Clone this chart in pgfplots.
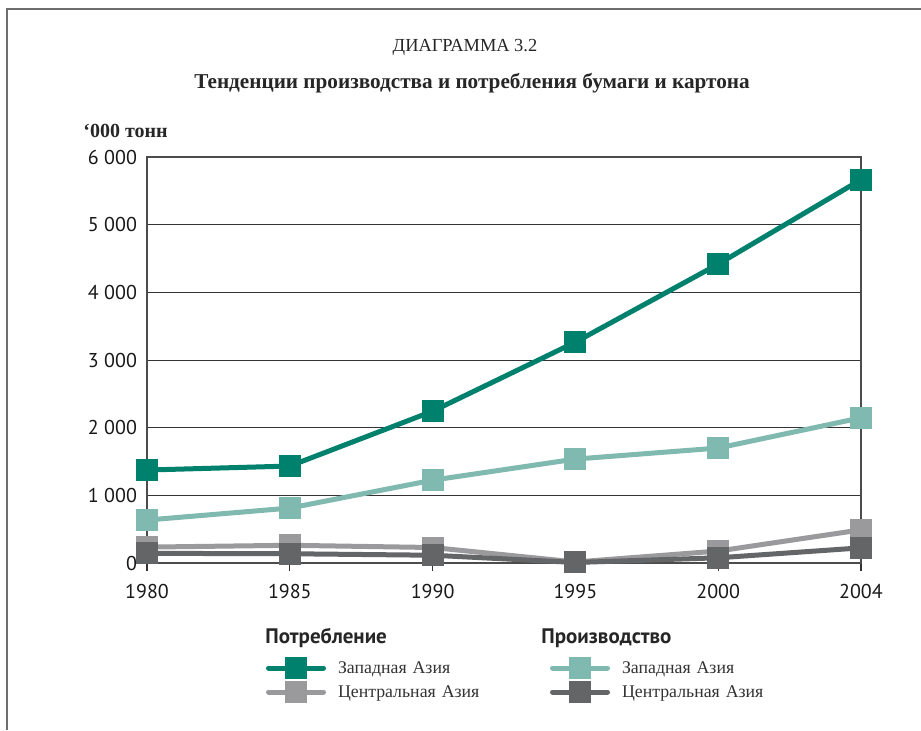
\documentclass[border=0pt]{standalone}
\usepackage{fontspec}
\setmainfont{Liberation Serif}
\newfontfamily\ptsans{PT Sans}
\usepackage{pgfplots}
\pgfplotsset{compat=1.18}
\definecolor{cwest}{HTML}{00816D}
\definecolor{pwest}{HTML}{80B9AF}
\definecolor{ccent}{HTML}{9A9A9C}
\definecolor{pcent}{HTML}{646567}
\definecolor{framec}{HTML}{6E6E6E}
\begin{document}
\begin{tikzpicture}
\useasboundingbox (0pt,0pt) rectangle (460.5pt,-365pt);
\fill[white] (0pt,0pt) rectangle (460.5pt,-365pt);
\draw[framec, line width=1pt] (460.5pt,-4.5pt) -- (3.5pt,-4.5pt) -- (3.5pt,-365pt);
\node[font=\fontsize{9.2}{12}\selectfont, text=black!85] at (232.5pt,-23.5pt) {ДИАГРАММА 3.2};
\node[font=\bfseries\fontsize{10.6}{12}\selectfont, text=black!85] at (236pt,-41.5pt) {Тенденции производства и потребления бумаги и картона};
\node[font=\bfseries\fontsize{10}{12}\selectfont, text=black!85, anchor=west, inner sep=0pt] at (41.5pt,-65.5pt) {‘000 тонн};
\node[font=\ptsans\bfseries\fontsize{10.5}{12}\selectfont, text=black!85, anchor=west, inner sep=0pt] at (132.5pt,-319pt) {Потребление};
\node[font=\ptsans\bfseries\fontsize{10.5}{12}\selectfont, text=black!85, anchor=west, inner sep=0pt] at (270.5pt,-319pt) {Производство};
\begin{axis}[
  at={(73.5pt,-281.5pt)}, anchor=south west,
  scale only axis, width=357pt, height=203pt,
  xmin=0, xmax=5, ymin=0, ymax=6000,
  xtick={0,1,2,3,4,5},
  xticklabels={1980,1985,1990,1995,2000,2004},
  ytick={0,1000,2000,3000,4000,5000,6000},
  yticklabels={0,1 000,2 000,3 000,4 000,5 000,6 000},
  /pgf/number format/assume math mode=true,
  ticklabel style={font=\ptsans\fontsize{10}{11}\selectfont, text=black!90},
  xtick pos=lower, tick align=outside,
  major tick length=4pt,
  xtick style={black!80, line width=0.6pt},
  ytick style={draw=none},
  ymajorgrids, grid style={black!80, line width=0.5pt},
  axis line style={black!70, line width=0.6pt},
  xticklabel style={yshift=-3pt},
  yticklabel style={xshift=2.5pt},
  clip=false,
  legend columns=2,
  legend cell align=left,
  legend style={draw=none, fill=none, inner sep=0pt, outer sep=0pt,
    at={(0.1667,-0.2365)}, anchor=north west,
    column sep=6pt, row sep=3pt,
    nodes={inner sep=0pt, text width=100pt, text height=7pt, text depth=2pt,
      font=\fontsize{8.9}{11}\selectfont, text=black!80}},
  legend image code/.code={\draw[#1, mark repeat=2, mark phase=2, line cap=round] plot coordinates {(0pt,0pt) (13.75pt,0pt) (27.5pt,0pt)};},
  every axis plot/.append style={line width=2.5pt, mark=square*, mark size=4.25pt, mark options={draw=none, solid}},
]
\addplot[ccent, forget plot] coordinates {(0,235) (1,262) (2,229) (3,15) (4,177) (5,490)};
\addplot[pcent, forget plot] coordinates {(0,143) (1,137) (2,115) (3,8) (4,77) (5,224)};
\addplot[pwest, forget plot] coordinates {(0,635) (1,812) (2,1224) (3,1536) (4,1699) (5,2146)};
\addplot[cwest, forget plot] coordinates {(0,1374) (1,1433) (2,2243) (3,3264) (4,4417) (5,5665)};
\addlegendimage{cwest, line width=2.5pt, mark=square*, mark size=4.25pt, mark options={draw=none}}
\addlegendentry{Западная Азия}
\addlegendimage{pwest, line width=2.5pt, mark=square*, mark size=4.25pt, mark options={draw=none}}
\addlegendentry{Западная Азия}
\addlegendimage{ccent, line width=2.5pt, mark=square*, mark size=4.25pt, mark options={draw=none}}
\addlegendentry{Центральная Азия}
\addlegendimage{pcent, line width=2.5pt, mark=square*, mark size=4.25pt, mark options={draw=none}}
\addlegendentry{Центральная Азия}
\end{axis}
\end{tikzpicture}
\end{document}
